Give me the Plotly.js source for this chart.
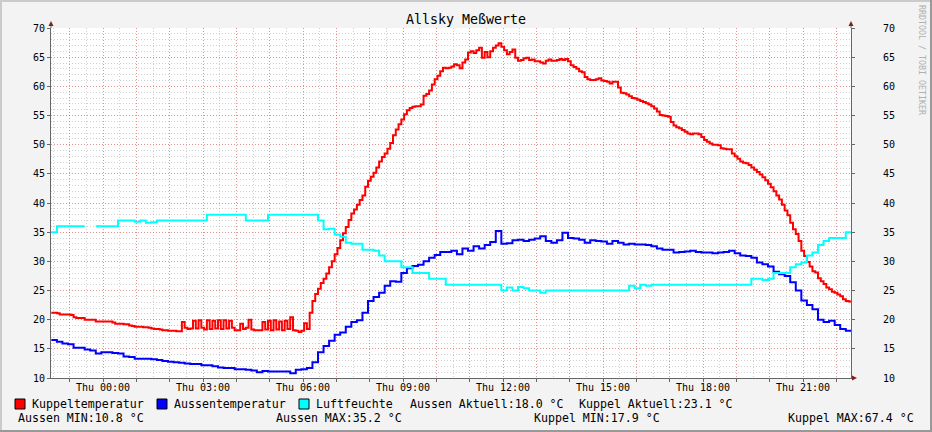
<!DOCTYPE html>
<html><head><meta charset="utf-8">
<script src="https://cdn.plot.ly/plotly-3.0.1.min.js"></script>
<style>html,body{margin:0;padding:0;background:#F3F3F3;}#chart{width:932px;height:432px;}</style>
</head><body><div id="chart"></div>
<script>
// ---- data (hours relative to Thu 00:00) ----
const START_HOUR = -1.55;
const STEP_RED = 5 / 60;   // 5-minute samples
const STEP_TEN = 10 / 60;  // 10-minute samples

const kuppelTemp = [
21.2,21.2,21.1,20.9,20.9,20.9,20.9,20.8,20.4,20.3,
20.3,20.3,20.0,20.0,20.0,20.0,19.7,19.7,19.7,19.7,
19.7,19.7,19.5,19.3,19.3,19.3,19.2,19.2,19.0,18.9,
18.8,18.8,18.8,18.7,18.7,18.6,18.5,18.4,18.4,18.3,
18.2,18.2,18.1,18.1,18.1,18.0,18.0,19.6,18.6,18.4,
18.5,19.8,18.5,19.9,18.6,18.3,19.9,18.4,19.8,18.5,
19.9,18.4,19.9,18.5,19.8,18.6,18.2,18.2,19.3,18.4,
18.6,20.0,18.3,18.2,18.2,18.2,19.6,18.3,19.8,18.2,
19.9,18.3,19.7,18.2,19.8,18.4,20.4,18.2,18.1,17.9,
18.1,19.4,18.4,21.2,23.2,24.4,25.3,26.3,27.0,27.9,
29.0,30.0,31.2,32.3,33.6,34.8,35.9,37.1,38.2,38.9,
39.7,40.5,41.3,42.8,43.8,44.5,45.2,46.1,47.1,47.9,
48.5,49.3,50.3,51.6,52.6,53.5,54.3,55.2,55.9,56.3,
56.5,56.6,56.6,56.9,58.4,58.7,59.3,60.3,61.2,61.8,
62.6,63.2,63.1,63.2,63.4,63.8,63.6,63.1,64.1,64.6,
65.8,66.0,65.7,66.2,66.6,64.9,65.9,65.0,66.0,66.6,
67.0,67.4,66.8,66.2,65.5,65.9,66.3,64.9,64.4,64.5,
64.8,64.9,64.5,64.6,64.3,64.3,64.1,63.9,64.4,64.6,
64.4,64.4,64.5,64.7,64.5,64.7,64.3,63.6,63.3,63.0,
62.6,62.4,61.6,61.2,61.1,61.1,61.2,61.4,61.0,60.9,
60.8,60.5,60.8,60.8,59.8,58.9,58.8,58.6,58.3,58.0,
57.9,57.7,57.5,57.3,57.1,56.9,56.6,56.2,55.7,55.1,
55.0,54.9,54.8,53.9,53.3,53.0,52.8,52.5,52.2,51.9,
51.8,51.9,51.9,51.8,51.3,50.8,50.5,50.2,50.0,50.0,
49.9,49.4,49.3,49.2,49.2,48.5,48.0,47.6,47.1,46.9,
46.8,46.5,46.1,45.7,45.3,44.9,44.4,43.9,43.3,42.7,
42.0,41.3,40.6,39.7,38.7,37.9,36.6,35.5,34.7,33.5,
31.8,30.9,29.9,29.1,28.3,28.1,27.1,26.6,26.1,25.5,
25.2,24.8,24.6,24.3,24.0,23.5,23.2,23.1,23.1];

const aussenTemp = [
16.5,16.2,15.9,15.8,15.2,15.2,14.9,14.7,14.2,14.4,
14.4,14.3,14.2,13.7,13.6,13.3,13.3,13.3,13.2,13.1,
12.9,12.8,12.7,12.6,12.5,12.4,12.4,12.2,12.2,12.0,
11.8,11.7,11.7,11.5,11.5,11.4,11.3,11.0,11.2,11.1,
11.1,11.1,11.1,10.8,11.4,11.5,11.7,12.7,14.4,15.5,
16.4,17.4,17.8,18.8,19.6,19.9,21.2,23.2,23.9,24.6,
25.8,26.6,26.5,28.0,28.8,29.2,29.4,30.0,30.6,31.1,
31.6,31.6,31.8,31.2,32.2,31.8,32.6,32.2,32.8,33.3,
35.2,33.0,33.1,33.6,33.7,33.5,33.7,33.9,34.3,33.5,
33.2,33.6,34.9,34.0,33.9,33.7,33.2,33.6,33.5,33.4,
33.0,33.5,33.2,32.9,33.0,32.9,32.9,32.8,32.6,32.2,
32.0,32.0,31.5,31.6,31.7,31.8,31.6,31.5,31.5,31.4,
31.5,31.6,31.8,31.4,31.0,30.9,30.6,29.8,29.5,29.1,
28.2,27.8,27.5,26.4,25.0,23.3,22.5,21.8,20.0,19.6,
19.8,19.1,18.4,18.1,18.0];

const luftfeuchte = [
35,36,36,36,36,36,36,null,36,36,
36,36,37,37,37,36.8,37,36.6,36.7,37,
37,37,37,37,37,37,37,37,38,38,
38,38,38,38,38,37,37,37,37,38,
38,38,38,38,38,38,38,38,37,35.5,
35.6,34.6,34.2,33.2,33,33,32,32,31.8,31,
30,30,30,29,29,28,28,28,27,27,
27,26,26,26,26,26,26,26,26,26,
26,25,25.5,25,25.6,25.4,25,25,24.6,25,
25,25,25,25,25,25,25,25,25,25,
25,25,25,25,25.8,25.4,26,25.8,26,26,
26,26,26,26,26,26,26,26,26,26,
26,26,26,26,26,26,27,27,26.8,27,
28,28,28,29,29.5,29.8,31,31.5,32.8,33.5,
34,34,34,35,35];

const tickHours  = [0, 3, 6, 9, 12, 15, 18, 21];
const tickLabels = ['Thu 00:00','Thu 03:00','Thu 06:00','Thu 09:00','Thu 12:00','Thu 15:00','Thu 18:00','Thu 21:00'];
const seriesNames = ['Kuppeltemperatur','Aussentemperatur','Luftfeuchte'];
const seriesColors = ['#FF0000','#0000FF','#00FFFF'];
const legendRow1Extra = ['Aussen Aktuell:18.0 °C','Kuppel Aktuell:23.1 °C'];
const legendRow2 = ['Aussen MIN:10.8 °C','Aussen MAX:35.2 °C','Kuppel MIN:17.9 °C','Kuppel MAX:67.4 °C'];

// ---- build ----
const tRed = kuppelTemp.map((_, i) => START_HOUR + i * STEP_RED);
const tTen = aussenTemp.map((_, i) => START_HOUR + i * STEP_TEN);

const traces = [
  {x: tRed, y: kuppelTemp, color: seriesColors[0]},
  {x: tTen, y: aussenTemp, color: seriesColors[1]},
  {x: tTen, y: luftfeuchte, color: seriesColors[2]}
].map(s => ({x: s.x, y: s.y, type: 'scatter', mode: 'lines', connectgaps: false,
  line: {color: s.color, width: 2, shape: 'hv'}, hoverinfo: 'skip', showlegend: false}));
// empty carriers so the overlay axes (grid / labels) get drawn
traces.unshift({x: [null], y: [null], xaxis: 'x2', yaxis: 'y3', type: 'scatter', mode: 'lines', hoverinfo: 'skip', showlegend: false});
traces.unshift({x: [null], y: [null], xaxis: 'x', yaxis: 'y2', type: 'scatter', mode: 'lines', hoverinfo: 'skip', showlegend: false});

const hourVals = [], hourText = [];
for (let h = -1; h <= 22; h++) {
  hourVals.push(h);
  const k = tickHours.indexOf(h);
  hourText.push(k >= 0 ? tickLabels[k] : '');
}

const L = 51, R = 851, T = 28, B = 378;
const px = x => (x - L) / (R - L);
const py = y => (B - y) / (B - T);

const MONO = 'DejaVu Sans Mono';
const AX = '#666666';
const ARROW = '#802020';
const shapes = [];
const rect = (x0, y0, x1, y1, fill, line) => shapes.push({type:'rect', xref:'paper', yref:'paper',
  x0: px(x0), x1: px(x1), y0: py(y0), y1: py(y1), fillcolor: fill,
  line: line ? {color: line, width: 1} : {width: 0}, layer: 'above'});
const seg = (x0, y0, x1, y1, c) => shapes.push({type:'line', xref:'paper', yref:'paper',
  x0: px(x0), x1: px(x1), y0: py(y0), y1: py(y1), line: {color: c, width: 1}, layer: 'above'});
const tri = (pts, c) => shapes.push({type:'path', xref:'paper', yref:'paper', layer:'above',
  path: 'M ' + pts.map(p => px(p[0]) + ' ' + py(p[1])).join(' L ') + ' Z', fillcolor: c, line: {width: 0}});

// image shading border
rect(0, 0, 932, 2, '#CBCBCB');
rect(0, 0, 2, 432, '#CBCBCB');
rect(0, 430, 932, 432, '#999999');
rect(930, 0, 932, 432, '#999999');
// axis extensions and arrows
seg(51, 28, 51, 25, AX);
seg(851, 28, 851, 25, AX);
seg(851, 378, 853, 378, AX);
tri([[48.5, 26], [53.5, 26], [51, 21]], ARROW);
tri([[848.5, 26], [853.5, 26], [851, 21]], ARROW);
tri([[852, 375.5], [852, 380.5], [857, 378]], ARROW);
// legend squares
rect(15, 399, 25, 409, seriesColors[0], '#000');
rect(157, 399, 167, 409, seriesColors[1], '#000');
rect(299, 399, 309, 409, seriesColors[2], '#000');

const annotations = [];
const txt = (s, x, y, anchor, size, color, angle) => annotations.push({text: s, xref:'paper', yref:'paper',
  x: px(x), y: py(y), xanchor: anchor || 'left', yanchor: 'middle', showarrow: false,
  font: {family: MONO, size: size || 11.6, color: color || '#000'}, textangle: angle || 0});
txt(seriesNames[0], 30, 404);
txt(seriesNames[1], 172, 404);
txt(seriesNames[2], 314, 404);
txt(legendRow1Extra[0], 408, 404);
txt(legendRow1Extra[1], 577, 404);
txt(legendRow2[0], 16, 418);
txt(legendRow2[1], 274, 418);
txt(legendRow2[2], 532, 418);
txt(legendRow2[3], 916, 418, 'right');
txt('RRDTOOL / TOBI OETIKER', 922, 60, 'center', 8.3, '#B0B0B0', 90);

const majorGrid = 'rgba(240,60,60,0.42)';
const minorGrid = 'rgba(150,150,150,0.45)';
const DOTS = '1px,2px';
const XR = [-1.56, 22.44], YR = [10, 70];

const layout = {
  width: 932, height: 432,
  margin: {l: L, r: 932 - R, t: T, b: 432 - B, pad: 0},
  paper_bgcolor: '#F3F3F3', plot_bgcolor: '#FFFFFF',
  font: {family: MONO, size: 10, color: '#000'},
  showlegend: false,
  title: {text: 'Allsky Meßwerte', font: {family: MONO, size: 13.3, color: '#000'},
    x: 0.5, xref: 'container', xanchor: 'center', y: 1 - 19 / 432, yref: 'container', yanchor: 'middle'},
  // minor grid (30 min) carrying the data
  xaxis: {range: XR, tickmode: 'linear', tick0: 0, dtick: 0.5, showticklabels: false, ticks: '',
    showgrid: true, gridcolor: minorGrid, griddash: DOTS, gridwidth: 1,
    showline: true, linecolor: AX, linewidth: 1, zeroline: false, fixedrange: true},
  // major grid (hourly) with labels
  xaxis2: {overlaying: 'x', side: 'bottom', anchor: 'y', range: XR, tickmode: 'array', tickvals: hourVals, ticktext: hourText,
    showgrid: true, gridcolor: majorGrid, griddash: DOTS, gridwidth: 1,
    ticks: 'outside', ticklen: 3, tickcolor: AX, showline: false, zeroline: false, fixedrange: true,
    ticklabelstandoff: -3, tickfont: {family: MONO, size: 10}},
  yaxis: {range: YR, tickmode: 'linear', tick0: 10, dtick: 1, showticklabels: false, ticks: '',
    showgrid: true, gridcolor: minorGrid, griddash: DOTS, gridwidth: 1,
    showline: true, linecolor: AX, linewidth: 1, zeroline: false, fixedrange: true},
  yaxis3: {overlaying: 'y', side: 'left', anchor: 'x', range: YR, tickmode: 'linear', tick0: 10, dtick: 5,
    showgrid: true, gridcolor: majorGrid, griddash: DOTS, gridwidth: 1,
    ticks: 'outside', ticklen: 3, tickcolor: AX, showline: false, zeroline: false, fixedrange: true,
    tickfont: {family: MONO, size: 10}},
  yaxis2: {overlaying: 'y', side: 'right', anchor: 'x', range: YR, tickmode: 'linear', tick0: 10, dtick: 5,
    showgrid: false, ticks: 'outside', ticklen: 3, tickcolor: AX, showline: true, linecolor: AX, linewidth: 1,
    zeroline: false, fixedrange: true, ticklabelstandoff: 26, tickfont: {family: MONO, size: 10}},
  shapes: shapes, annotations: annotations
};

Plotly.newPlot('chart', traces, layout, {displayModeBar: false, staticPlot: true});
</script></body></html>
